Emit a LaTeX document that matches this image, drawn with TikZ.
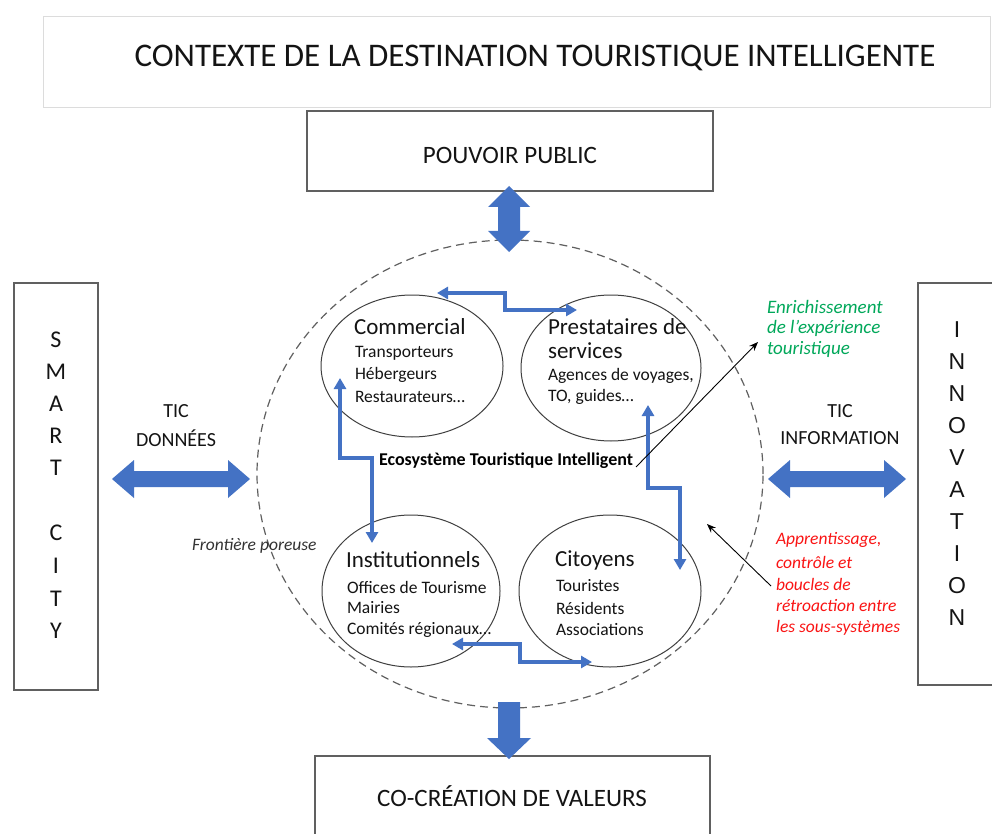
\documentclass[tikz,border=0pt]{standalone}
\usepackage{fontspec}
\setmainfont{Carlito}
\newfontfamily\arialfont{Liberation Sans}
\usetikzlibrary{arrows.meta,shapes.geometric}
\definecolor{fatblue}{RGB}{68,114,196}
\definecolor{boxgray}{RGB}{96,96,96}
\definecolor{lightbox}{RGB}{220,220,220}
\definecolor{greentxt}{RGB}{0,168,90}
\definecolor{redtxt}{RGB}{250,20,20}
\definecolor{txtgray}{RGB}{20,20,20}
\newcommand{\fsz}[1]{\fontsize{#1}{#1}\selectfont}
\begin{document}
\begin{tikzpicture}[x=1pt,y=-1pt,
  every node/.style={inner sep=0pt, outer sep=0pt, text=txtgray},
  frame/.style={draw=boxgray, line width=1.3pt},
  subsys/.style={draw=black!75, line width=1pt},
  bigtxt/.style={font=\fsz{25}},
  headtxt/.style={font=\fsz{23}, anchor=west},
  itemtxt/.style={font=\fsz{17.5}, anchor=west},
  vletter/.style={font=\fsz{24}},
  hletter/.style={font=\arialfont\fsz{23}},
  tictxt/.style={font=\fsz{20}},
  greenann/.style={font=\itshape\fsz{19}, text=greentxt, anchor=west},
  redann/.style={font=\itshape\fsz{17.5}, text=redtxt, anchor=west},
  loopline/.style={draw=fatblue, line width=3.5pt, {Triangle[length=11pt,width=12pt]}-{Triangle[length=11pt,width=12pt]}},
  thinarrow/.style={draw=black, line width=0.9pt, -{Stealth[length=9pt,width=7pt]}},
  fat/.style={fill=fatblue}
]
\clip (0,0) rectangle (992,834);
\fill[white] (0,0) rectangle (992,834);

% title
\node[draw=lightbox, line width=1pt, minimum width=947pt, minimum height=91pt] (ctx) at (516.5,62.5) {};
\node[font=\fsz{33}] (ctxt) at (535,58) {CONTEXTE DE LA DESTINATION TOURISTIQUE INTELLIGENTE};

% pouvoir public
\node[frame, minimum width=406pt, minimum height=80pt] (pp) at (510,151) {};
\node[bigtxt] (pptxt) at (510,155) {POUVOIR PUBLIC};

% co-creation
\node[frame, minimum width=395pt, minimum height=100pt] (cc) at (512.5,806) {};
\node[bigtxt] (cctxt) at (512,796) {CO-CRÉATION DE VALEURS};

% smart city
\node[frame, minimum width=84pt, minimum height=407pt] (sc) at (56,486.5) {};
\foreach \l/\yy [count=\i] in {S/340,M/372,A/404,R/436,T/468,C/533,I/566,T/599,Y/631}
  \node[vletter] (sc\i) at (56,\yy) {\l};

% innovation
\node[frame, minimum width=90pt, minimum height=402pt] (inn) at (963,484) {};
\foreach \l/\yy [count=\i] in {I/330,N/362,N/394,O/426,V/458,A/490,T/522,I/554,O/586,N/618}
  \node[hletter] (in\i) at (957,\yy) {\l};

% ecosystem boundary
\node[draw=boxgray, dash pattern=on 8pt off 5pt, line width=1.2pt, ellipse, minimum width=506pt, minimum height=468pt] (eco) at (510,474) {};

% subsystems
\node[subsys, ellipse, minimum width=182pt, minimum height=142pt] (com) at (412,366) {};
\node[subsys, ellipse, minimum width=180pt, minimum height=146pt] (pre) at (611,368) {};
\node[subsys, ellipse, minimum width=178pt, minimum height=152pt] (ins) at (411,591) {};
\node[subsys, ellipse, minimum width=182pt, minimum height=152pt] (cit) at (610,591) {};

\node[headtxt] (comh) at (354,327) {Commercial};
\node[itemtxt] (com1) at (355,353) {Transporteurs};
\node[itemtxt] (com2) at (355,375) {Hébergeurs};
\node[itemtxt] (com3) at (355,397) {Restaurateurs…};

\node[headtxt] (preh) at (548,327) {Prestataires de};
\node[headtxt] (preh2) at (548,351) {services};
\node[itemtxt] (pre1) at (548,376) {Agences de voyages,};
\node[itemtxt] (pre2) at (548,397) {TO, guides…};

\node[headtxt] (insh) at (346,560) {Institutionnels};
\node[itemtxt] (ins1) at (347,587) {Offices de Tourisme};
\node[itemtxt] (ins2) at (347,608) {Mairies};
\node[itemtxt] (ins3) at (347,630) {Comités régionaux…};

\node[headtxt] (cith) at (555,560) {Citoyens};
\node[itemtxt] (cit1) at (556,586) {Touristes};
\node[itemtxt] (cit2) at (556,608) {Résidents};
\node[itemtxt] (cit3) at (556,630) {Associations};

\node[font=\bfseries\fsz{18}, anchor=west, text=black] (ecolab) at (379,461) {Ecosystème Touristique Intelligent};

% blue feedback loops
\coordinate (t1) at (437,293);
\coordinate (t2) at (577,310);
\draw[loopline] (t1) -- (505,293) -- (505,310) -- (t2);
\coordinate (l1) at (340,378);
\coordinate (l2) at (372,543);
\draw[loopline] (l1) -- (340,458) -- (372,458) -- (l2);
\coordinate (r1) at (648,405);
\coordinate (r2) at (680,570);
\draw[loopline] (r1) -- (648,488) -- (680,488) -- (r2);
\coordinate (b1) at (452,644);
\coordinate (b2) at (592,662);
\draw[loopline] (b1) -- (520,644) -- (520,662) -- (b2);

% fat arrows
\fill[fat] (112,479) -- (134,460) -- (134,471) -- (228,471) -- (228,460) -- (250,479) -- (228,498) -- (228,487) -- (134,487) -- (134,498) -- cycle;
\fill[fat] (768,479) -- (790,460) -- (790,471) -- (884,471) -- (884,460) -- (906,479) -- (884,498) -- (884,487) -- (790,487) -- (790,498) -- cycle;
\fill[fat] (509,186) -- (530,207) -- (520,207) -- (520,231) -- (530,231) -- (509,252) -- (488,231) -- (498,231) -- (498,207) -- (488,207) -- cycle;
\fill[fat] (498,702) -- (520,702) -- (520,738) -- (531,738) -- (509,759) -- (487,738) -- (498,738) -- cycle;

% TIC labels
\node[tictxt] (tic1) at (176,411) {TIC};
\node[tictxt] (don) at (176,438) {DONNÉES};
\node[tictxt] (tic2) at (840,411) {TIC};
\node[tictxt] (info) at (840,438) {INFORMATION};

\node[font=\itshape\fsz{17.5}, text=black!80, anchor=west] (front) at (192,546) {Frontière poreuse};

% green annotation
\node[greenann] (gr1) at (767,307) {Enrichissement};
\node[greenann] (gr2) at (767,328) {de l’expérience};
\node[greenann] (gr3) at (767,349) {touristique};

% red annotation
\node[redann] (rd1) at (776,540) {Apprentissage,};
\node[redann] (rd2) at (776,562) {contrôle et};
\node[redann] (rd3) at (776,584) {boucles de};
\node[redann] (rd4) at (776,606) {rétroaction entre};
\node[redann] (rd5) at (776,628) {les sous-systèmes};

% thin black arrows
\coordinate (e1) at (636,467);
\coordinate (e2) at (758,342);
\draw[thinarrow] (e1) -- (e2);
\coordinate (a1) at (771,586);
\coordinate (a2) at (707,524);
\draw[thinarrow] (a1) -- (a2);
\end{tikzpicture}
\end{document}
